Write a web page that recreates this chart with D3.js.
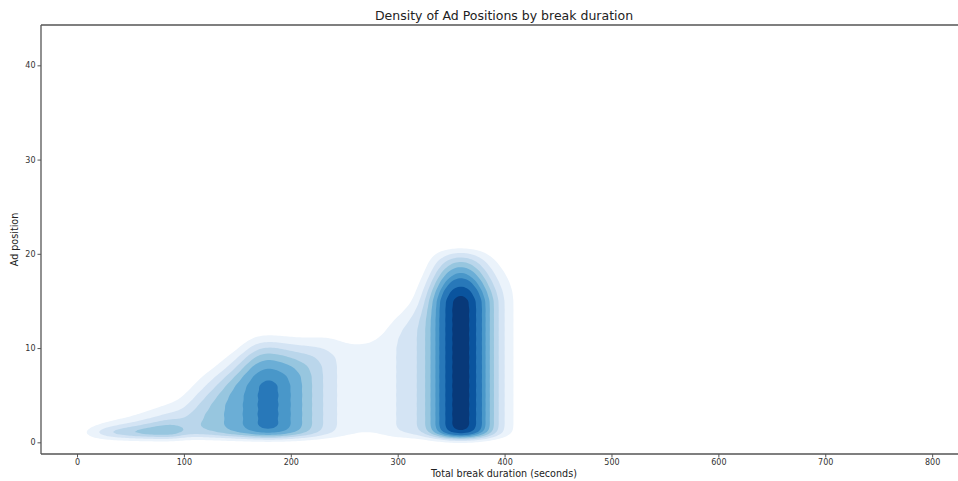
<!DOCTYPE html>
<html>
<head>
<meta charset="utf-8">
<script src="https://cdn.jsdelivr.net/npm/d3@7"></script>
<style>
  body { margin: 0; background: #ffffff; }
  text { font-family: "DejaVu Sans", sans-serif; }
</style>
</head>
<body>
<svg id="chart" width="958" height="481"></svg>
<script>
// Ad breaks grouped by total duration (seconds)
const durations = [8, 20, 32, 44, 56, 68, 80, 92,
  106, 118, 130, 142, 154, 166, 178, 190, 202, 214, 226, 238, 250, 262,
  274, 286, 298,
  311, 323, 335, 347, 359, 371, 383, 395, 407, 419];
// Shortest break (number of ads) recorded at each duration
const fewestAds = [1, 1, 1, 1, 1, 1, 1, 1,
  2, 3, 4, 4, 5, 6, 6, 6, 6, 7, 8, 9, 9, 10,
  10, 10, 11,
  12, 13, 15, 15, 15, 15, 15, 15, 16, 17];
// Number of breaks holding fewestAds, fewestAds + 1, ... ads
const breaksByLength = [
  [7, 2], [13, 4, 1], [17, 6, 2], [18, 7, 3, 1], [17, 8, 4, 2], [16, 9, 5, 3, 1], [14, 9, 6, 4, 2], [12, 9, 7, 5, 3, 1],
  [3, 5, 5, 5, 3, 2], [3, 4, 5, 5, 5, 2], [3, 5, 5, 6, 4, 3], [1, 3, 6, 7, 6, 5, 2],
  [1, 4, 6, 7, 8, 5, 2], [2, 4, 6, 8, 9, 7, 2], [2, 5, 6, 8, 10, 9, 2], [2, 5, 6, 8, 9, 7, 2],
  [1, 3, 6, 7, 8, 6, 2], [2, 4, 6, 8, 5, 2], [2, 4, 6, 5, 3], [3, 4, 5, 3],
  [2, 3, 3, 2], [2, 3, 2, 1],
  [1, 2, 3, 2], [2, 3, 2, 1], [2, 4, 5, 3, 1],
  [3, 4, 5, 3, 1], [2, 3, 3, 4, 4, 2], [4, 5, 5, 5, 6, 7], [5, 7, 8, 8, 10, 12, 1],
  [6, 9, 9, 9, 12, 15, 2], [5, 7, 8, 8, 10, 12, 1], [4, 5, 5, 5, 6, 7], [2, 3, 3, 3, 3, 2],
  [1, 1, 2, 1, 1], [1, 1]
];

const xTicks = [0, 100, 200, 300, 400, 500, 600, 700, 800];
const yTicks = [0, 10, 20, 30, 40];

const titleText = "Density of Ad Positions by break duration";
const xLabel = "Total break duration (seconds)";
const yLabel = "Ad position";

// Blues colour map (ColorBrewer stops, linear in between)
const bluesStops = ["#f7fbff", "#deebf7", "#c6dbef", "#9ecae1", "#6baed6",
                    "#4292c6", "#2171b5", "#08519c", "#08306b"];

// Kernel bandwidths in data units
const bwX = 10;    // seconds
const bwY = 0.58;  // positions

const svg = d3.select("#chart");
const plot = { left: 41, top: 25, right: 967, bottom: 454 };

const x = d3.scaleLinear().domain([-33.7, 832.6]).range([plot.left, plot.right]);
const y = d3.scaleLinear().domain([-1.24, 44.28]).range([plot.bottom, plot.top]);

const blues = d3.scaleLinear()
  .domain(bluesStops.map((_, i) => i / (bluesStops.length - 1)))
  .range(bluesStops)
  .interpolate(d3.interpolateRgb);

// Kernel density on a pixel grid covering the axes
const cell = 2;
const nx = Math.ceil((plot.right - plot.left) / cell);
const ny = Math.ceil((plot.bottom - plot.top) / cell);
const gx = d3.range(nx).map(i => x.invert(plot.left + (i + 0.5) * cell));
const gy = d3.range(ny).map(j => y.invert(plot.top + (j + 0.5) * cell));
const grid = new Float64Array(nx * ny);

durations.forEach((dur, b) => {
  const kx = gx.map(v => Math.exp(-0.5 * ((v - dur) / bwX) ** 2));
  breaksByLength[b].forEach((count, m) => {
    const ads = fewestAds[b] + m;
    // every ad in the break contributes one position 1..ads
    const ky = gy.map(v => {
      let s = 0;
      for (let k = 1; k <= ads; k++) s += Math.exp(-0.5 * ((v - k) / bwY) ** 2);
      return s;
    });
    for (let j = 0; j < ny; j++) {
      const w = count * ky[j];
      if (w < 1e-12) continue;
      const row = j * nx;
      for (let i = 0; i < nx; i++) grid[row + i] += w * kx[i];
    }
  });
});

// Iso-proportion levels: each contour encloses a fixed share of the mass
const sorted = Array.from(grid).sort((a, b) => b - a);
const total = d3.sum(sorted);
let run = 0;
const cumShare = sorted.map(v => (run += v) / total);
const isoProps = d3.range(10).map(i => 0.05 + i * 0.95 / 9);
const levels = isoProps.map(p =>
  sorted[Math.min(d3.bisectLeft(cumShare, 1 - p), sorted.length - 1)]);

const lo = levels[0], hi = levels[levels.length - 1];
const bands = levels.slice(0, -1).map((l, i) => ({
  level: l,
  color: blues(((l + levels[i + 1]) / 2 - lo) / (hi - lo))
}));

const contours = d3.contours()
  .size([nx, ny])
  .thresholds(bands.map(b => b.level))(grid);

const toPixels = d3.geoTransform({
  point(px, py) { this.stream.point(plot.left + px * cell, plot.top + py * cell); }
});
const path = d3.geoPath(toPixels);

svg.append("g")
  .selectAll("path")
  .data(contours)
  .join("path")
  .attr("d", path)
  .attr("fill", (d, i) => bands[i].color)
  .attr("stroke", "none");

// Axes
const axisColor = "#555";
const xAxis = svg.append("g")
  .attr("transform", `translate(0,${plot.bottom})`)
  .call(d3.axisBottom(x).tickValues(xTicks).tickSize(3.5).tickPadding(2).tickFormat(d3.format("d")));
const yAxis = svg.append("g")
  .attr("transform", `translate(${plot.left},0)`)
  .call(d3.axisLeft(y).tickValues(yTicks).tickSize(3.5).tickPadding(2).tickFormat(d3.format("d")));

[xAxis, yAxis].forEach(g => {
  g.select(".domain").remove();
  g.selectAll(".tick line").attr("stroke", axisColor).attr("stroke-width", 1);
  g.selectAll(".tick text")
    .attr("fill", "#333")
    .style("font-family", "DejaVu Sans")
    .style("font-size", "8px");
});

// Spines (top, left, bottom)
const spines = svg.append("g")
  .attr("stroke", axisColor)
  .attr("stroke-width", 1.3)
  .attr("fill", "none");
spines.append("line").attr("x1", plot.left).attr("x2", plot.right).attr("y1", plot.top).attr("y2", plot.top);
spines.append("line").attr("x1", plot.left).attr("x2", plot.left).attr("y1", plot.top).attr("y2", plot.bottom);
spines.append("line").attr("x1", plot.left).attr("x2", plot.right).attr("y1", plot.bottom).attr("y2", plot.bottom);

const midX = (plot.left + plot.right) / 2;
svg.append("text")
  .attr("x", midX).attr("y", 20)
  .attr("text-anchor", "middle")
  .attr("fill", "#222")
  .style("font-size", "12.5px")
  .text(titleText);

svg.append("text")
  .attr("x", midX).attr("y", 477)
  .attr("text-anchor", "middle")
  .attr("fill", "#222")
  .style("font-size", "9.6px")
  .text(xLabel);

svg.append("text")
  .attr("transform", `translate(18,${(plot.top + plot.bottom) / 2}) rotate(-90)`)
  .attr("text-anchor", "middle")
  .attr("fill", "#222")
  .style("font-size", "9.6px")
  .text(yLabel);
</script>
</body>
</html>
